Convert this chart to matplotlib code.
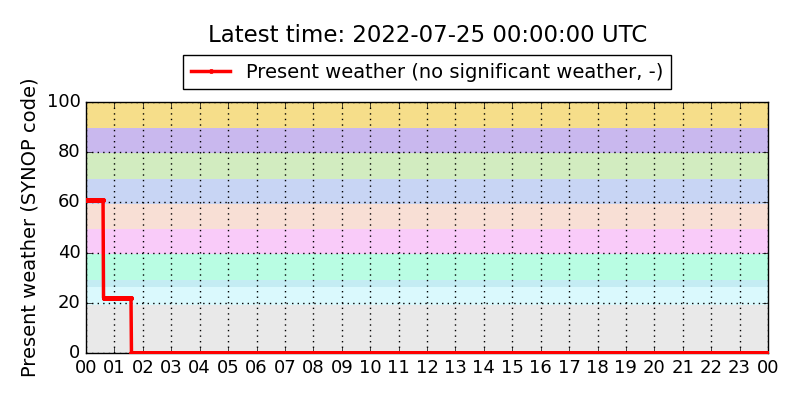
import numpy as np
import matplotlib
matplotlib.use('Agg')
import matplotlib.pyplot as plt
import matplotlib.dates as mdates
from datetime import datetime, timedelta

plt.style.use('classic')

# present weather as runs of constant value, one sample per minute
run_values = [61, 22, 0]
run_minutes = [37, 59, 1344]
start = datetime(2022, 7, 24, 0, 0)
end = datetime(2022, 7, 25, 0, 0)

# background bands of SYNOP code groups (lower, upper, colour)
band_lo = [0, 19.3, 26.4, 29.1, 39.6, 49.3, 59.3, 69.3, 79.6, 89.8]
band_hi = [19.3, 26.4, 29.1, 39.6, 49.3, 59.3, 69.3, 79.6, 89.8, 100]
band_col = ['#e9e9e9', '#daf9fd', '#c4ecf3', '#b9fde3', '#f9cbf9',
            '#f8dfd5', '#c8d5f4', '#d2ecc0', '#c9b8ee', '#f6de8a']

values = np.repeat(run_values, run_minutes)
times = [start + timedelta(minutes=i) for i in range(len(values))]

fig = plt.figure(figsize=(8, 4), dpi=100, facecolor='white')
ax = fig.add_axes([0.1075, 0.1175, 0.8525, 0.6275])

for lo, hi, c in zip(band_lo, band_hi, band_col):
    ax.axhspan(lo, hi, color=c, lw=0, zorder=0)

ax.plot(times, values, '-', color='red', lw=2.5, marker='.', markersize=6,
        markeredgecolor='red', label='Present weather (no significant weather, -)', zorder=3)

ax.set_xlim(start, end)
ax.set_ylim(0, 100)
ax.xaxis.set_major_locator(mdates.HourLocator())
ax.xaxis.set_major_formatter(mdates.DateFormatter('%H'))
ax.tick_params(labelsize=13)
ax.grid(True, color='black', linestyle=':', linewidth=1)
ax.set_axisbelow(False)
ax.set_ylabel('Present weather (SYNOP code)', fontsize=14)
ax.legend(loc='lower center', bbox_to_anchor=(0.5, 1.05), numpoints=1,
          fontsize=14, fancybox=False, borderaxespad=0)
fig.text(0.534, 0.9125, 'Latest time: 2022-07-25 00:00:00 UTC', fontsize=16.5,
         ha='center', va='center')

plt.savefig('out.png', dpi=100, facecolor='white')
